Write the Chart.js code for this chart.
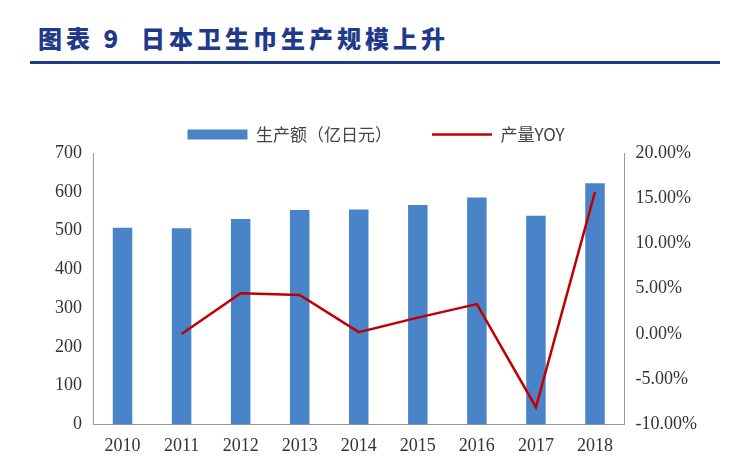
<!DOCTYPE html>
<html><head><meta charset="utf-8">
<script src="https://cdn.jsdelivr.net/npm/chart.js@4"></script>
<style>
body{margin:0;background:#fff;width:740px;height:460px;overflow:hidden;font-family:"Noto Sans CJK SC",sans-serif}
#t{position:absolute;left:38px;top:20px;font-size:24px;font-weight:900;color:#1f3a8a;font-family:"Noto Sans CJK SC";letter-spacing:4px}
#ln{position:absolute;left:30px;top:61px;width:690px;height:3px;background:#1f3a8a}
#w{position:absolute;left:0;top:86px;width:740px;height:374px}
</style></head><body>
<div id="t">图表 9&nbsp;&nbsp;日本卫生巾生产规模上升</div>
<div id="ln"></div>
<div id="w"><canvas id="c"></canvas></div>
<script>
const years=["2010","2011","2012","2013","2014","2015","2016","2017","2018"];
const output=[507,506,530,553,554,566,585,538,622];
const yoy=[null,0.0,4.5,4.3,0.2,1.8,3.3,-8.1,15.7];
const F="'Liberation Serif',serif";
new Chart(document.getElementById('c'),{
data:{labels:years,datasets:[
{type:'bar',label:'生产额（亿日元）',data:output,backgroundColor:'#4a84c8',yAxisID:'y',barPercentage:0.33,categoryPercentage:1,order:2,pointStyle:'rect'},
{type:'line',label:'产量YOY',data:yoy,borderColor:'#c00000',backgroundColor:'#c00000',borderWidth:2.5,pointRadius:0,tension:0,yAxisID:'y1',order:1,pointStyle:'line'}
]},
options:{responsive:true,maintainAspectRatio:false,animation:false,
layout:{padding:{left:52,right:40,bottom:0,top:0}},
plugins:{legend:{position:'top',labels:{sort:(a,b)=>a.datasetIndex-b.datasetIndex,usePointStyle:true,pointStyleWidth:60,boxHeight:10,padding:40,color:'#444',font:{size:17,family:"'Noto Sans CJK SC'"}}},tooltip:{enabled:false}},
scales:{
x:{grid:{display:false},border:{color:'#999'},ticks:{color:'#333',font:{size:18,family:F}}},
y:{min:0,max:700,ticks:{stepSize:100,color:'#333',font:{size:18,family:F}},grid:{display:false},border:{color:'#999'}},
y1:{position:'right',min:-10,max:20,ticks:{stepSize:5,color:'#333',font:{size:18,family:F},callback:v=>v.toFixed(2)+'%'},grid:{display:false},border:{color:'#999'}}
}}});
</script></body></html>
